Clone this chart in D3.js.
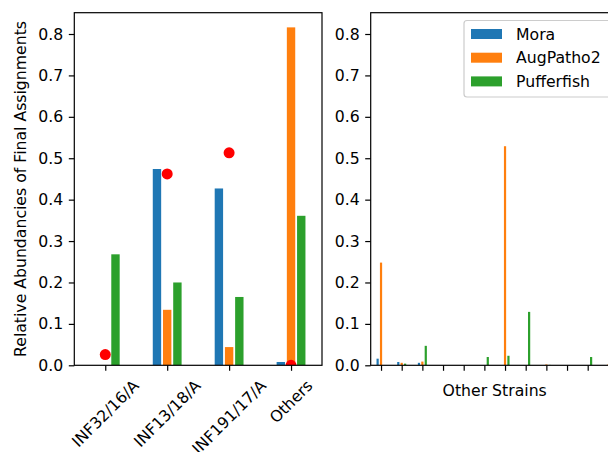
<!DOCTYPE html>
<html>
<head>
<meta charset="utf-8">
<script src="https://cdn.jsdelivr.net/npm/d3@7"></script>
<style>
  html, body { margin: 0; padding: 0; background: #fff; }
  svg { display: block; }
  text { font-family: "DejaVu Sans", sans-serif; fill: #000; }
</style>
</head>
<body>
<svg id="chart" width="608" height="452"></svg>
<script>
// ---- data ----
const seriesNames = ["Mora", "AugPatho2", "Pufferfish"];
const seriesColors = ["#1f77b4", "#ff7f0e", "#2ca02c"];

const categories = ["INF32/16/A", "INF13/18/A", "INF191/17/A", "Others"];
const moraMain = [0, 0.474, 0.427, 0.008];
const augMain = [0, 0.134, 0.044, 0.816];
const pufferMain = [0.268, 0.200, 0.165, 0.361];
const truthMain = [0.026, 0.462, 0.513, 0.0];

const otherStrains = d3.range(12).map(i => "S" + i);
const moraOther = [0.016, 0.008, 0.006, 0, 0, 0, 0, 0, 0, 0, 0, 0];
const augOther = [0.248, 0.006, 0.009, 0, 0, 0, 0.529, 0, 0.002, 0, 0, 0.002];
const pufferOther = [0, 0.004, 0.047, 0, 0, 0.020, 0.023, 0.129, 0.001, 0, 0.020, 0];

const yTicks = [0, 0.1, 0.2, 0.3, 0.4, 0.5, 0.6, 0.7, 0.8];

// ---- layout ----
const svg = d3.select("#chart");
const FS = 15.7;
const topY = 12.7, bottomY = 365.3;
const y = d3.scaleLinear().domain([0, 0.8]).range([bottomY, 34]);

function panel(left, width, cats, series, opts) {
  const n = cats.length;
  const x = d3.scaleLinear().domain([-0.5, n - 0.5]).range([left, left + width]);
  const unit = x(1) - x(0);
  const g = svg.append("g");
  const clipId = "clip" + Math.round(left);
  svg.append("clipPath").attr("id", clipId)
    .append("rect").attr("x", left).attr("y", topY).attr("width", width).attr("height", bottomY - topY);
  const plot = g.append("g").attr("clip-path", `url(#${clipId})`);

  const offsets = [-0.165, 0, 0.165];
  const bw = 0.15 * unit - 0.9;
  series.forEach((vals, si) => {
    plot.selectAll(null).data(vals).enter().append("rect")
      .attr("x", (d, i) => x(i + offsets[si]) - bw / 2)
      .attr("width", bw)
      .attr("y", d => y(d))
      .attr("height", d => y(0) - y(d))
      .attr("fill", seriesColors[si]);
  });

  if (opts.truth) {
    plot.selectAll(null).data(opts.truth).enter().append("circle")
      .attr("cx", (d, i) => x(i))
      .attr("cy", d => y(d))
      .attr("r", 5.5)
      .attr("fill", "#ff0000");
  }

  // y axis
  const yAxis = d3.axisLeft(y).tickValues(yTicks).tickFormat(d3.format(".1f"))
    .tickSize(5.5).tickPadding(5.5);
  const ya = g.append("g").attr("transform", `translate(${left},0)`).call(yAxis);
  ya.select(".domain").remove();
  ya.selectAll("line").attr("stroke", "#000").attr("stroke-width", 1.2);
  ya.selectAll("text").attr("font-size", FS).attr("font-family", "DejaVu Sans").attr("fill", "#000");

  // x axis
  const xAxis = d3.axisBottom(x).tickValues(d3.range(n)).tickFormat("")
    .tickSize(5.5).tickPadding(5.5);
  const xa = g.append("g").attr("transform", `translate(0,${bottomY})`).call(xAxis);
  xa.select(".domain").remove();
  xa.selectAll("line").attr("stroke", "#000").attr("stroke-width", 1.2);

  if (opts.rotLabels) {
    cats.forEach((c, i) => {
      const t = g.append("text").text(c).attr("font-size", FS)
        .attr("text-anchor", "middle").attr("dominant-baseline", "central");
      const w = t.node().getComputedTextLength();
      const h = FS * 1.17;
      const side = (w + h) / Math.SQRT2;
      const cx = x(i), cy = bottomY + 11 + side / 2;
      t.attr("x", 0).attr("y", 0)
        .attr("transform", `translate(${cx},${cy}) rotate(-45)`);
    });
  }

  // spines
  g.append("rect").attr("x", left).attr("y", topY).attr("width", width).attr("height", bottomY - topY)
    .attr("fill", "none").attr("stroke", "#000").attr("stroke-width", 1.2);

  return x;
}

const xL = panel(74.3, 247.7, categories, [moraMain, augMain, pufferMain], { truth: truthMain, rotLabels: true });
const xR = panel(370.7, 248, otherStrains, [moraOther, augOther, pufferOther], {});

// y label
svg.append("text")
  .attr("transform", `translate(26,${(topY + bottomY) / 2}) rotate(-90)`)
  .attr("text-anchor", "middle")
  .attr("font-size", FS)
  .text("Relative Abundancies of Final Assignments");

// x label right
svg.append("text")
  .attr("x", (370.7 + 618.7) / 2)
  .attr("y", 396)
  .attr("text-anchor", "middle")
  .attr("font-size", FS)
  .text("Other Strains");

// legend
const lg = svg.append("g");
const lgX = 464, lgY = 20.5, lgW = 147, lgH = 76.5;
lg.append("rect").attr("x", lgX).attr("y", lgY).attr("width", lgW).attr("height", lgH)
  .attr("rx", 3).attr("fill", "#fff").attr("fill-opacity", 0.8)
  .attr("stroke", "#cccccc").attr("stroke-width", 1.2);
seriesNames.forEach((name, i) => {
  const cy = 34 + i * 23.7;
  lg.append("rect").attr("x", 471).attr("y", cy - 5).attr("width", 31).attr("height", 10)
    .attr("fill", seriesColors[i]);
  lg.append("text").attr("x", 516).attr("y", cy).attr("dominant-baseline", "central")
    .attr("font-size", FS).text(name);
});
</script>
</body>
</html>
